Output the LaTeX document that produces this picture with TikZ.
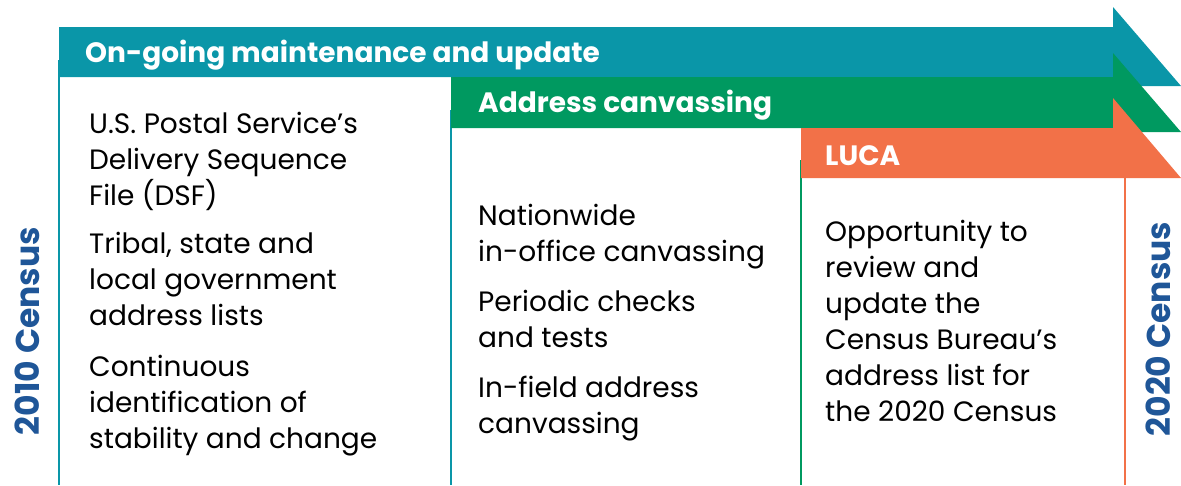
\documentclass[tikz,border=0pt]{standalone}
\usepackage{fontspec}
\setmainfont{Poppins}
\definecolor{tealc}{RGB}{10,150,168}
\definecolor{greenc}{RGB}{0,153,96}
\definecolor{orangec}{RGB}{242,113,72}
\definecolor{bluec}{RGB}{31,86,152}
\begin{document}
\begin{tikzpicture}[x=1pt,y=-1pt,
  bodytext/.style={anchor=north west,inner sep=0pt,align=left,font=\fontsize{28}{36}\selectfont,text=black},
  headtext/.style={anchor=west,inner sep=0pt,font=\fontsize{28}{30}\selectfont\bfseries,text=white},
  yeartext/.style={inner sep=0pt,rotate=90,font=\fontsize{33}{35}\selectfont\bfseries,text=bluec}]
\useasboundingbox (0,0) rectangle (1181,485);
% vertical lines
\draw[tealc,line width=2pt] (59,60) -- (59,485);
\draw[tealc,line width=2pt] (451,110) -- (451,485);
\draw[greenc,line width=2pt] (801,160) -- (801,485);
\draw[orangec,line width=2pt] (1125,170) -- (1125,485);
% arrows
\fill[tealc] (59,27) -- (1113,27) -- (1113,7) -- (1181,86) -- (1113,86) -- (1113,77) -- (59,77) -- cycle;
\fill[greenc] (451,77) -- (1113,77) -- (1113,53) -- (1181,132) -- (1113,132) -- (1113,128) -- (451,128) -- cycle;
\fill[orangec] (801,128) -- (1113,128) -- (1113,98) -- (1181,178) -- (801,178) -- cycle;
% headings
\node[headtext] (h1) at (85,55) {On-going maintenance and update};
\node[headtext] (h2) at (478,105) {Address canvassing};
\node[headtext] (h3) at (825,156) {LUCA};
% body
\node[bodytext] (a1) at (89,112) {U.S. Postal Service’s\\Delivery Sequence\\File (DSF)};
\node[bodytext] (a2) at (89,232) {Tribal, state and\\local government\\address lists};
\node[bodytext] (a3) at (89,355) {Continuous\\identification of\\stability and change};
\node[bodytext] (b1) at (478,204) {Nationwide\\in-office canvassing};
\node[bodytext] (b2) at (478,290) {Periodic checks\\and tests};
\node[bodytext] (b3) at (478,376) {In-field address\\canvassing};
\node[bodytext] (c1) at (825,220) {Opportunity to\\review and\\update the\\Census Bureau’s\\address list for\\the 2020 Census};
% years
\node[yeartext] (y1) at (27,331) {2010 Census};
\node[yeartext] (y2) at (1158,329) {2020 Census};
\end{tikzpicture}
\end{document}
